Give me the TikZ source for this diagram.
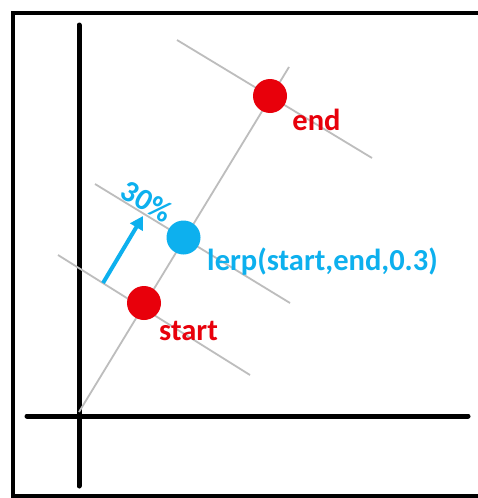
\documentclass[tikz,border=0pt]{standalone}
\usepackage{fontspec}
\setsansfont{Carlito}
\usetikzlibrary{arrows.meta}
\definecolor{ptred}{HTML}{E8000B}
\definecolor{ptblue}{HTML}{0DB0EE}
\definecolor{guide}{HTML}{BDBDBD}
\tikzset{
  dot/.style={circle, minimum size=34pt, inner sep=0pt, fill=#1},
  lbl/.style={font=\sffamily\bfseries\fontsize{30.5}{33}\selectfont, text=#1, inner sep=0pt},
  guideline/.style={draw=guide, line width=1.8pt},
  axis/.style={line width=5pt, line cap=round},
}
\begin{document}
\begin{tikzpicture}[x=1pt,y=-1pt]
\useasboundingbox (0,0) rectangle (478,498);
\fill[white] (0,0) rectangle (478,498);
% frame (right side lies outside the picture)
\coordinate (ftr) at (478,13);
\coordinate (ftl) at (13,13);
\coordinate (fbl) at (13,496);
\coordinate (fbr) at (478,496);
\draw[line width=4pt] (ftr) -- (ftl) -- (fbl) -- (fbr);
% axes
\coordinate (ytop) at (79,25);
\coordinate (ybot) at (79,486);
\coordinate (xl) at (27,416);
\coordinate (xr) at (468,416);
\draw[axis] (ytop) -- (ybot);
\draw[axis] (xl) -- (xr);
% guide lines
\coordinate (o) at (79,412);
\coordinate (ltop) at (289,67);
\draw[guideline] (o) -- (ltop);
\coordinate (e1) at (177,40);  \coordinate (e2) at (372,158);
\coordinate (b1) at (95,184);  \coordinate (b2) at (290,303);
\coordinate (s1) at (58,255);  \coordinate (s2) at (250,375);
\draw[guideline] (e1) -- (e2);
\draw[guideline] (b1) -- (b2);
\draw[guideline] (s1) -- (s2);
% arrow
\coordinate (a1) at (103,283);
\coordinate (a2) at (143,216);
\draw[ptblue, line width=4pt, -{Triangle[length=13pt,width=14pt]}] (a1) -- (a2);
% points
\node[dot=ptred] (start) at (144,303) {};
\node[dot=ptblue] (mid) at (183.5,237.5) {};
\node[dot=ptred] (end) at (270,96) {};
% labels
\node[lbl=ptred] (startlbl) at (188.5,331) {start};
\node[lbl=ptred] (endlbl) at (316.5,120) {end};
\node[lbl=ptblue] (midlbl) at (322.5,262) {lerp(start,end,0.3)};
\node[lbl=ptblue, rotate=-31] (pct) at (147,201) {30\%};
\end{tikzpicture}
\end{document}
